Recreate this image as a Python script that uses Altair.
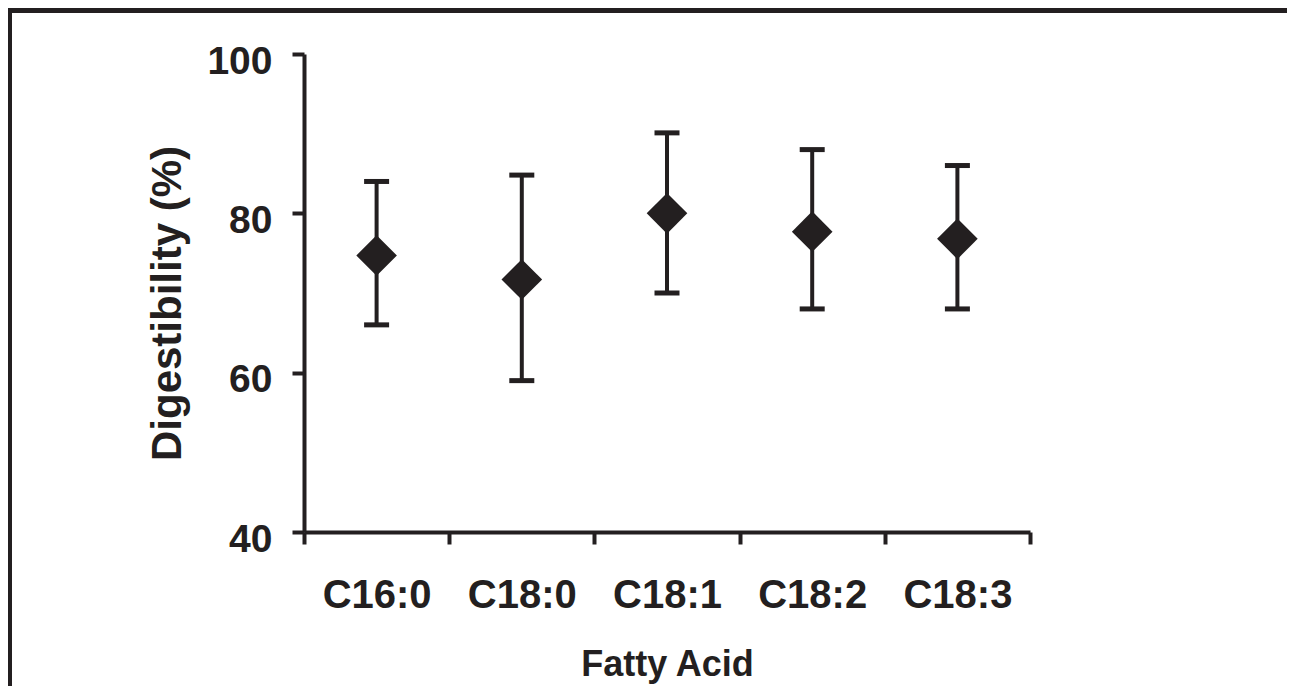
import altair as alt
import pandas as pd

acids = ["C16:0", "C18:0", "C18:1", "C18:2", "C18:3"]
means = [74.7, 71.7, 80.0, 77.7, 76.8]
upper = [84.0, 84.8, 90.1, 88.0, 86.0]
lower = [66.0, 59.0, 70.0, 68.0, 68.0]
y_ticks = [40, 60, 80, 100]

INK = "#231f20"
FONT = "Liberation Sans"

df = pd.DataFrame({"acid": acids, "mean": means, "upper": upper, "lower": lower})

x_enc = alt.X(
    "acid:N",
    sort=acids,
    scale=alt.Scale(paddingInner=0, paddingOuter=0),
    axis=alt.Axis(
        title="Fatty Acid",
        labelAngle=0,
        tickBand="extent",
        tickSize=12,
        tickWidth=4,
        tickColor=INK,
        domainWidth=4,
        domainColor=INK,
        labelPadding=31,
        labelFontSize=40,
        titleFontSize=36,
        titleBaseline="alphabetic",
        titleY=143,
    ),
)
y_scale = alt.Scale(domain=[40, 100], nice=False, zero=False)
y_axis = alt.Axis(
    title="Digestibility (%)",
    values=y_ticks,
    tickSize=12,
    tickWidth=4,
    tickColor=INK,
    domainWidth=4,
    domainColor=INK,
    labelPadding=20,
    labelFontSize=39,
    labelOffset=7,
    titleFontSize=42,
    titleAngle=-90,
    titleBaseline="alphabetic",
    titleAlign="center",
    titleX=-124,
    titleY=249,
)

base = alt.Chart(df)

bars = base.mark_rule(color=INK, strokeWidth=4).encode(
    x=x_enc,
    y=alt.Y("lower:Q", scale=y_scale, axis=y_axis),
    y2="upper:Q",
)
cap_hi = base.mark_tick(color=INK, thickness=5, size=25, orient="horizontal", opacity=1).encode(
    x=alt.X("acid:N", sort=acids), y=alt.Y("upper:Q", scale=y_scale)
)
cap_lo = base.mark_tick(color=INK, thickness=5, size=25, orient="horizontal", opacity=1).encode(
    x=alt.X("acid:N", sort=acids), y=alt.Y("lower:Q", scale=y_scale)
)
pts = base.mark_point(shape="diamond", filled=True, color=INK, opacity=1, size=1650).encode(
    x=alt.X("acid:N", sort=acids), y=alt.Y("mean:Q", scale=y_scale)
)

frame_df = pd.DataFrame({"k": [0]})
frame_top = alt.Chart(frame_df).mark_rule(color=INK, strokeWidth=5).encode(
    x=alt.value(-296), x2=alt.value(990), y=alt.value(-43.5)
)
frame_left = alt.Chart(frame_df).mark_rule(color=INK, strokeWidth=4).encode(
    x=alt.value(-294), y=alt.value(-46), y2=alt.value(640)
)

chart = (
    alt.layer(bars, cap_hi, cap_lo, pts, frame_top, frame_left)
    .properties(
        width=726,
        height=478,
        padding={"left": 296, "top": 46, "right": 257, "bottom": 154},
        autosize=alt.AutoSizeParams(type="none"),
        background="white",
    )
    .configure_view(stroke=None)
    .configure_axis(
        grid=False,
        labelFont=FONT,
        titleFont=FONT,
        labelFontWeight="bold",
        titleFontWeight="bold",
        labelColor=INK,
        titleColor=INK,
    )
)

chart.save("out.html", embed_options={"renderer": "svg", "actions": False})
